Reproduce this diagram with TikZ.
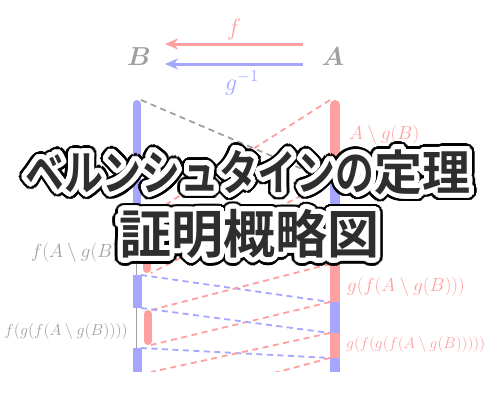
\RequirePackage{fix-cm}
\documentclass[tikz,border=0pt]{standalone}
\usepackage{fontspec}
\usepackage{graphicx}
\newfontfamily\jpfont{Noto Sans CJK JP}[BoldFont={Noto Sans CJK JP Bold}]
\usetikzlibrary{arrows.meta,calc}
\definecolor{rd}{HTML}{FFA0A0}
\definecolor{bl}{HTML}{A6A6FF}
\definecolor{gr}{HTML}{A0A0A0}
\definecolor{ttlc}{HTML}{2E2E2E}
\newcommand\halotext[3]{%
  \foreach \a in {0,10,...,350}{\node[ttl,text=black] (#1-k\a) at ($(#2)+(\a:7.5)$) {#3};}
  \foreach \a in {0,12,...,348}{\node[ttl,text=white] (#1-w\a) at ($(#2)+(\a:5)$) {#3};}
  \foreach \a in {0,45,...,315}{\node[ttl,text=white] (#1-v\a) at ($(#2)+(\a:2.5)$) {#3};}
  \node[ttl,text=ttlc] (#1) at (#2) {#3};
}
\begin{document}
\begin{tikzpicture}[x=1pt,y=-1pt,
  ttl/.style={inner sep=0pt,font=\jpfont\bfseries},
  lbl/.style={inner sep=0pt},
  dsh/.style={dash pattern=on 6pt off 4.5pt,line width=1.8pt},
  arr/.style={line width=3pt,-{Stealth[length=13pt,width=11pt,inset=4pt]}},
  barL/.style={line width=8pt},
  barR/.style={line width=10pt}]
\fill[white] (0,0) rectangle (500,400);
\useasboundingbox (0,0) rectangle (500,400);
% sets A and B
\node[lbl,text=gr,font=\fontsize{26}{30}\selectfont\boldmath] (B) at (139,57) {$B$};
\node[lbl,text=gr,font=\fontsize{26}{30}\selectfont\boldmath] (A) at (333,57) {$A$};
\coordinate (fs) at (303,44); \coordinate (fe) at (165,44);
\coordinate (gs) at (303,64); \coordinate (ge) at (165,64);
\draw[arr,rd] (fs) -- (fe);
\draw[arr,bl] (gs) -- (ge);
\node[lbl,text=rd,font=\fontsize{24}{28}\selectfont] (flab) at (234,29) {$f$};
\node[lbl,text=bl,font=\fontsize{24}{28}\selectfont] (glab) at (242,83) {$g^{-1}$};
% coordinates on the bars
\foreach \n/\y in {100/100,214/214,273/273,275/275,308/308,310/310,345/345,348/348,372/372}
  \coordinate (L\n) at (141,\y);
\foreach \n/\y in {L214/214,L273/273,L310/310,L345/345,L372/372,L406/406}
  \coordinate (F\n) at (151,\y);
\foreach \n/\y in {100/100,181/181,264/264,302/302,333/333,358/358}
  \coordinate (R\n) at (330,\y);
\begin{scope}
\clip (0,0) rectangle (500,371);
% left bar (B)
\draw[gr,line width=1.5pt] (136.5,212) -- (136.5,380);
\draw[barL,bl,line cap=round] (136.5,104) -- (136.5,210);
\draw[barL,rd,line cap=round] (146.5,218) -- (146.5,269);
\draw[line width=9pt,bl] (137.5,275) -- (137.5,308);
\draw[barL,rd,line cap=round] (147.5,314) -- (147.5,341);
\draw[line width=9pt,bl] (137.5,348) -- (137.5,380);
% right bar (A)
\draw[barR,rd,line cap=round] (335,105) -- (335,181);
\draw[barR,bl] (335,181) -- (335,264);
\draw[barR,rd] (335,264) -- (335,302);
\draw[barR,bl] (335,302) -- (335,333);
\draw[barR,rd] (335,333) -- (335,358);
\draw[barR,bl] (335,358) -- (335,380);
% connectors
\draw[dsh,gr] (L100) -- (R181);
\draw[dsh,rd] (R100) -- (FL214);
\draw[dsh,rd] (R181) -- (FL273);
\draw[dsh,bl] (L214) -- (R264);
\draw[dsh,bl] (L275) -- (R302);
\draw[dsh,rd] (R264) -- (FL310);
\draw[dsh,rd] (R302) -- (FL345);
\draw[dsh,bl] (L308) -- (R333);
\draw[dsh,bl] (L348) -- (R358);
\draw[dsh,rd] (R333) -- (FL372);
\draw[dsh,rd] (R358) -- (FL406);
\end{scope}
% labels
\node[lbl,text=rd,anchor=west,font=\fontsize{19}{22}\selectfont] (l1) at (349,135) {$A\setminus g(B)$};
\node[lbl,text=rd,anchor=west,font=\fontsize{19}{22}\selectfont] (l2) at (347,287) {$g(f(A\setminus g(B)))$};
\node[lbl,text=rd,anchor=west,font=\fontsize{15.5}{18}\selectfont] (l3) at (346,345) {$g(f(g(f(A\setminus g(B)))))$};
\node[lbl,text=gr,anchor=east,font=\fontsize{19}{22}\selectfont] (l4) at (126,253) {$f(A\setminus g(B))$};
\node[lbl,text=gr,anchor=east,font=\fontsize{16}{19}\selectfont] (l5) at (128,331) {$f(g(f(A\setminus g(B))))$};
% title
\coordinate (t1pos) at (248,172);
\coordinate (t2pos) at (249,234);
\halotext{t1}{t1pos}{\fontsize{48}{48}\selectfont\scalebox{0.81}[1]{ベルンシュタインの}定理}
\halotext{t2}{t2pos}{\fontsize{52}{52}\selectfont 証明概略図}
\end{tikzpicture}
\end{document}
